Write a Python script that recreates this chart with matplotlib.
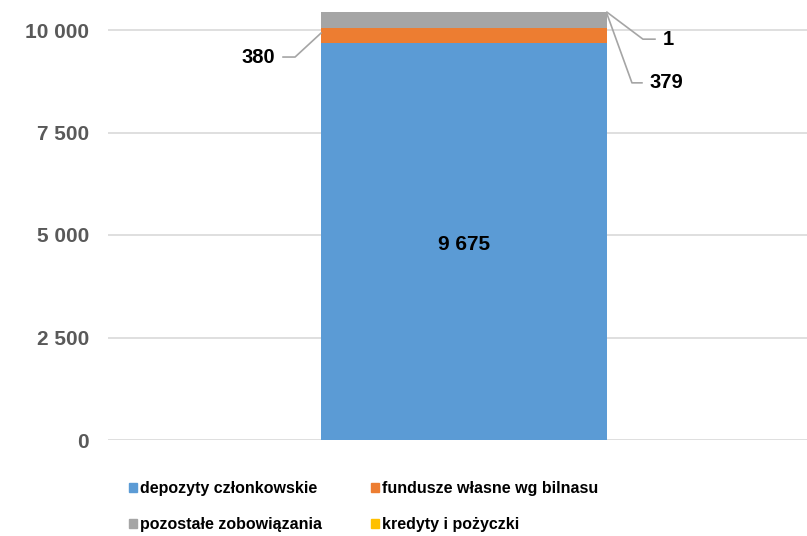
import matplotlib
matplotlib.use("Agg")
import matplotlib.pyplot as plt
from matplotlib.patches import Patch
from matplotlib.lines import Line2D

plt.rcParams['font.family'] = ['Liberation Sans', 'DejaVu Sans']
plt.rcParams['font.weight'] = 'bold'

# data
series = ["depozyty członkowskie", "fundusze własne wg bilnasu",
          "pozostałe zobowiązania", "kredyty i pożyczki"]
values = [9675, 380, 379, 1]
colors = ["#5b9bd5", "#ed7d31", "#a5a5a5", "#ffc000"]
yticks = [0, 2500, 5000, 7500, 10000]
ytick_labels = ["0", "2 500", "5 000", "7 500", "10 000"]

W, H = 807, 536
fig = plt.figure(figsize=(W / 100, H / 100), dpi=100)
ax = fig.add_axes([108 / W, (H - 440) / H, (807 - 108) / W, (440 - 9.5) / H])

bar_w = 0.409
bottom = 0
for v, c in zip(values, colors):
    ax.bar(0, v, bottom=bottom, width=bar_w, color=c, zorder=3)
    bottom += v

ax.set_xlim(-0.5093, 0.4907)
ax.set_ylim(0, 10500)
ax.set_yticks(yticks)
ax.set_yticklabels(ytick_labels)
ax.set_xticks([])
ax.tick_params(axis='y', length=0, pad=13.7, labelsize=15, labelcolor="#595959")
for s in ax.spines.values():
    s.set_visible(False)
ax.grid(axis='y', color="#d9d9d9", linewidth=1.2, zorder=0)

# main value inside the bar
ax.text(0, values[0] / 2 - 60, "9 675", ha='center', va='center', fontsize=15,
        color='black', fontweight='bold', zorder=4)

# outside labels with leader lines (offsets in pixels)
left_edge, right_edge = -bar_w / 2, bar_w / 2
cum = [sum(values[:i + 1]) for i in range(len(values))]
labels = [
    (str(values[1]), (left_edge, values[0] + values[1] * 0.66), (-26, -24), (-38, -24), 'right'),
    (str(values[3]), (right_edge, cum[3]), (36, -27), (48, -27), 'left'),
    (str(values[2]), (right_edge, cum[2] - 40), (25, -69), (35, -69), 'left'),
]
fig.canvas.draw()
for txt, anchor, elbow, end, ha in labels:
    ax_px, ay_px = ax.transData.transform(anchor)
    xs = [ax_px, ax_px + elbow[0], ax_px + end[0]]
    ys = [ay_px, ay_px + elbow[1], ay_px + end[1]]
    fig.add_artist(Line2D(xs, ys, transform=None, color="#a5a5a5", linewidth=1.2))
    tx = ax_px + end[0] + (8 if ha == 'left' else -8)
    fig.text(tx / W, (ay_px + end[1]) / H, txt, ha=ha, va='center',
             fontsize=14.5, fontweight='bold', color='black')

order = [0, 2, 1, 3]
handles = [Patch(color=colors[i]) for i in order]
fig.legend(handles, [series[i] for i in order], ncol=2, loc='upper left',
           bbox_to_anchor=(129 / W, 1 - 481 / H), frameon=False,
           fontsize=11.5, handlelength=0.5, handleheight=0.5,
           handletextpad=0.2, columnspacing=3.05, labelspacing=1.3,
           borderaxespad=0, borderpad=0)

fig.savefig("out.png", dpi=100)
